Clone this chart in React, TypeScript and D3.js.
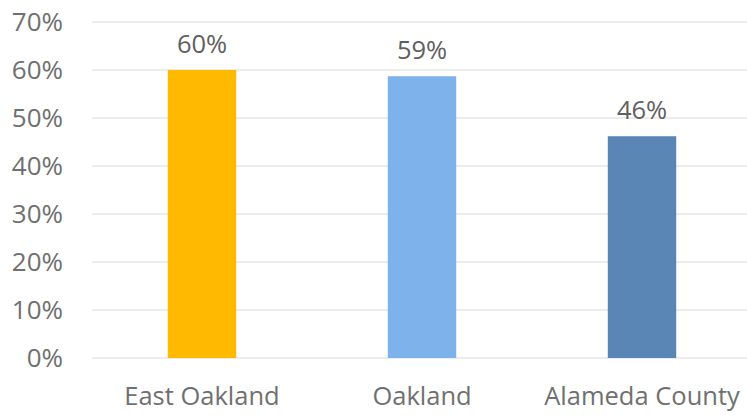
import React from "react";
import * as d3 from "d3";

const categories = ["East Oakland", "Oakland", "Alameda County"];
const values = [0.60, 0.587, 0.462];
const labels = ["60%", "59%", "46%"];
const colors = ["#FFBA00", "#7EB2EA", "#5986B5"];
const yTicks = [0, 0.1, 0.2, 0.3, 0.4, 0.5, 0.6, 0.7];

export default function App() {
  const W = 747, H = 415;
  const x = d3.scaleBand<string>().domain(categories).range([92, 752]).paddingInner(0.689).paddingOuter(0.3445);
  const y = d3.scaleLinear().domain([0, 0.7]).range([358, 22]);
  const fmt = d3.format(".0%");
  const font = "'Open Sans', sans-serif";
  return (
    <svg width={W} height={H} style={{ position: "absolute", left: 0, top: 0, background: "#fff" }}>
      {yTicks.map((t) => (
        <g key={t}>
          <line x1={92} x2={747} y1={y(t)} y2={y(t)} stroke="#d9d9d9" strokeWidth={1.2} />
          <text x={63} y={y(t)} dy="0.36em" textAnchor="end" fontFamily={font} fontSize={26} fill="#707070">{fmt(t)}</text>
        </g>
      ))}
      {categories.map((c, i) => (
        <g key={c}>
          <rect x={x(c)!} y={y(values[i])} width={x.bandwidth()} height={y(0) - y(values[i])} fill={colors[i]} />
          <text x={x(c)! + x.bandwidth() / 2} y={y(values[i]) - 17} textAnchor="middle" fontFamily={font} fontSize={25.5} fill="#606060">{labels[i]}</text>
          <text x={x(c)! + x.bandwidth() / 2} y={405} textAnchor="middle" fontFamily={font} fontSize={25.5} fill="#707070">{c}</text>
        </g>
      ))}
    </svg>
  );
}
